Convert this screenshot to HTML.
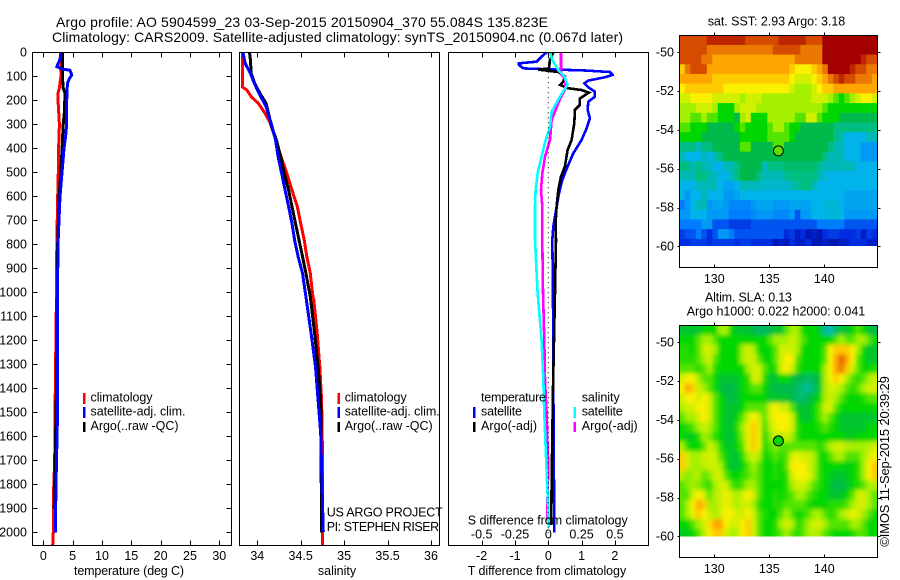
<!DOCTYPE html>
<html lang="en">
<head>
<meta charset="utf-8">
<title>Argo profile 5904599_23</title>
<style>
html,body{margin:0;padding:0;background:#fff;}
svg{display:block;}
text{font-family:"Liberation Sans",sans-serif;font-size:12.5px;fill:#000;}
.ttl{font-size:14px;}
</style>
</head>
<body>
<svg id="fig" xmlns="http://www.w3.org/2000/svg" width="900" height="580" viewBox="0 0 900 580">
  <defs>
    <clipPath id="map1clip"><rect x="680" y="36" width="197" height="210"/></clipPath>
    <clipPath id="map2clip"><rect x="680" y="326" width="197" height="210.5"/></clipPath>
    <filter id="soft" x="-5%" y="-5%" width="110%" height="110%"><feGaussianBlur stdDeviation="2"/></filter>
  </defs>
  <g id="map1cells" clip-path="url(#map1clip)"></g>
  <g clip-path="url(#map2clip)"><g id="map2cells" filter="url(#soft)"></g></g>
  <g id="marks"></g>
  <g id="axes" fill="none" stroke="#000" stroke-width="1" shape-rendering="crispEdges">
    <rect x="32.5" y="52.5" width="199" height="493"/>
    <rect x="239.5" y="52.5" width="200" height="493"/>
    <rect x="448.5" y="52.5" width="200" height="493"/>
    <rect x="679.5" y="35.5" width="198" height="232"/>
    <rect x="679.5" y="325.5" width="198" height="232"/>
  </g>
  <g id="ticks"></g>
  <g id="labels"></g>

  <text class="ttl" x="56" y="27" textLength="492" lengthAdjust="spacing">Argo profile: AO 5904599_23 03-Sep-2015 20150904_370 55.084S 135.823E</text>
  <text class="ttl" x="52" y="42" textLength="571" lengthAdjust="spacing">Climatology: CARS2009. Satellite-adjusted climatology: synTS_20150904.nc (0.067d later)</text>

  <text x="129" y="575" text-anchor="middle" textLength="110" lengthAdjust="spacing">temperature (deg C)</text>
  <text x="337" y="575" text-anchor="middle">salinity</text>
  <text x="467.7" y="575" textLength="158.5" lengthAdjust="spacing">T difference from climatology</text>
  <text x="467.7" y="524.3" textLength="160" lengthAdjust="spacing">S difference from climatology</text>

  <g>
    <rect x="83" y="393" width="2.5" height="11" fill="#f00"/>
    <rect x="83" y="407" width="2.5" height="11" fill="#00f"/>
    <rect x="83" y="422" width="2.5" height="10" fill="#000"/>
    <text x="90.5" y="401.7" textLength="62" lengthAdjust="spacing">climatology</text>
    <text x="90.5" y="415.7" textLength="95" lengthAdjust="spacing">satellite-adj. clim.</text>
    <text x="90.5" y="430" textLength="88" lengthAdjust="spacing">Argo(..raw -QC)</text>
  </g>
  <g>
    <rect x="337.5" y="393" width="2.5" height="11" fill="#f00"/>
    <rect x="337.5" y="407" width="2.5" height="11" fill="#00f"/>
    <rect x="337.5" y="422" width="2.5" height="10" fill="#000"/>
    <text x="344.7" y="401.7" textLength="62" lengthAdjust="spacing">climatology</text>
    <text x="344.7" y="415.7" textLength="95" lengthAdjust="spacing">satellite-adj. clim.</text>
    <text x="344.7" y="430" textLength="88" lengthAdjust="spacing">Argo(..raw -QC)</text>
  </g>
  <text x="326.7" y="516.7" textLength="116" lengthAdjust="spacing">US ARGO PROJECT</text>
  <text x="326.7" y="531" textLength="112.5" lengthAdjust="spacing">PI: STEPHEN RISER</text>

  <g>
    <rect x="473" y="407" width="2.5" height="11" fill="#00f"/>
    <rect x="473" y="422" width="2.5" height="10" fill="#000"/>
    <rect x="573.5" y="407" width="2.5" height="11" fill="#0ff"/>
    <rect x="573.5" y="422" width="2.5" height="10" fill="#f0f"/>
    <text x="481" y="401.7" textLength="65" lengthAdjust="spacing">temperature</text>
    <text x="481" y="415.7" textLength="41" lengthAdjust="spacing">satellite</text>
    <text x="481" y="430" textLength="56" lengthAdjust="spacing">Argo(-adj)</text>
    <text x="581.7" y="401.7" textLength="38" lengthAdjust="spacing">salinity</text>
    <text x="581.7" y="415.7" textLength="41" lengthAdjust="spacing">satellite</text>
    <text x="581.7" y="430" textLength="56" lengthAdjust="spacing">Argo(-adj)</text>
  </g>

  <text x="707.7" y="25.7" textLength="137.5" lengthAdjust="spacing">sat. SST: 2.93 Argo: 3.18</text>
  <text x="705" y="301.7" textLength="87" lengthAdjust="spacing">Altim. SLA: 0.13</text>
  <text x="686.7" y="315.7" textLength="178.5" lengthAdjust="spacing">Argo h1000: 0.022 h2000: 0.041</text>
  <text transform="translate(889,546.7) rotate(-90)" textLength="170.5" lengthAdjust="spacing" style="font-size:13px">©IMOS 11-Sep-2015 20:39:29</text>
</svg>
<script>
// ---------- profile data (depth in dbar) ----------
const depthTicks = [0,100,200,300,400,500,600,700,800,900,1000,1100,1200,1300,1400,1500,1600,1700,1800,1900,2000];
const tempTicks = [0,5,10,15,20,25,30];
const salTicks = [34,34.5,35,35.5,36];
const salTickLabels = ['34','34.5','35','35.5','36'];
const tDiffTicks = [-2,-1,0,1,2];
const sDiffTicks = [-0.5,-0.25,0,0.25,0.5];
const sDiffTickLabels = ['-0.5','-0.25','0','0.25','0.5'];

const tempClimDepth = [0,70,100,150,170,200,300,400,500,600,800,1000,1200,1400,1700,1850,2000,2055];
const tempClimValue = [3.3,2.96,3.0,2.73,2.5,2.5,2.75,2.6,2.55,2.45,2.3,2.25,2.15,2.05,1.94,1.72,1.7,1.6];
const tempArgoDepth = [0,50,100,150,170,250,300,400,500,600,800,1000,1200,1400,1600,1800,1900];
const tempArgoValue = [3.3,3.25,3.25,3.4,3.7,3.6,3.4,3.2,3.0,2.7,2.45,2.38,2.32,2.25,2.1,1.94,1.85];
const tempSatDepth = [0,30,60,70,75,95,110,130,200,300,350,400,500,600,800,1000,1200,1400,1550,1800,2000];
const tempSatValue = [3.0,2.85,2.3,3.3,4.55,4.84,4.43,4.1,3.98,3.98,3.8,3.53,3.19,2.85,2.5,2.42,2.4,2.39,2.39,2.17,2.05];

const salClimDepth = [0,130,145,157,185,212,254,296,351,421,504,574,643,713,782,851,921,1018,1032,1171,1310,1449,1657,1866,2055];
const salClimValue = [33.83,33.83,33.83,33.88,33.93,34.01,34.09,34.15,34.2,34.26,34.34,34.40,34.46,34.50,34.54,34.57,34.61,34.64,34.65,34.69,34.72,34.74,34.75,34.75,34.75];
const salArgoDepth = [0,32,88,129,171,212,254,310,365,435,504,574,643,713,782,851,921,1018,1171,1310,1449,1588,1727,1936,2000];
const salArgoValue = [33.91,33.92,33.93,33.97,34.03,34.1,34.13,34.165,34.22,34.27,34.31,34.36,34.40,34.44,34.48,34.52,34.56,34.61,34.66,34.70,34.73,34.735,34.735,34.74,34.74];
const salSatDepth = [0,46,88,129,171,226,296,365,435,504,574,643,713,782,851,921,1018,1171,1310,1449,1588,1727,1866,1998];
const salSatValue = [33.835,33.86,33.92,33.965,34.02,34.1,34.16,34.21,34.24,34.28,34.32,34.36,34.4,34.43,34.47,34.52,34.56,34.62,34.67,34.70,34.73,34.74,34.75,34.76];

const dTSatDepth = [0,18,39,46,53,67,71,76,82,94,104,118,129,146,164,185,206,240,275,317,365,421,476,532,588,643,726,782,1000,1365,2000];
const dTSatValue = [-0.05,-0.2,-0.35,-0.88,-0.88,-0.75,0,1.1,1.85,1.93,1.7,1.2,1.08,1.2,1.4,1.4,1.2,1.18,1.25,1.15,1.0,0.75,0.58,0.42,0.32,0.25,0.15,0.12,0.14,0.15,0.18];
const dTArgoDepth = [0,32,67,72,82,100,122,136,150,157,168,192,219,240,296,365,407,476,518,574,643,713,782,1000,1200,1400,1600,1800,1970];
const dTArgoValue = [0.15,0.05,0.02,-0.3,0.3,0.5,0.45,0.35,0.6,1.0,1.22,0.95,0.95,0.8,0.78,0.7,0.58,0.5,0.38,0.3,0.25,0.22,0.23,0.2,0.17,0.14,0.12,0.1,0.09];
const dSSatDepth = [0,32,74,100,136,164,192,247,310,365,435,504,574,643,782,1000,1200,1365,1504,1643,1782,1977];
const dSSatValue = [0.0125,0.03,0.075,0.12,0.145,0.11,0.08,0.025,0.0125,-0.02,-0.05,-0.08,-0.095,-0.1,-0.1,-0.08,-0.05,-0.0375,-0.03,-0.02,-0.01,0.005];
const dSArgoDepth = [0,74,94,108,129,157,192,233,282,365,435,504,574,643,782,1000,1200,1365,1504,1643,1725,1950];
const dSArgoValue = [0.095,0.095,0.1,0.125,0.13,0.125,0.09,0.06,0.025,0.0125,-0.025,-0.045,-0.055,-0.045,-0.045,-0.04,-0.03,-0.025,-0.0125,-0.005,0,-0.01];

// ---------- map data: colour level per 0.5-degree cell, north to south ----------
const mapLonTicks = [130,135,140];
const mapLatTicks = [-50,-52,-54,-56,-58,-60];
const floatLon = 135.823;
const floatLat = -55.084;
const sstRows = [
[9,9,9,9,9,9.5,9.5,9.5,9.5,9.5,9.5,9.5,9,9,9,9,9,9,9.5,9.5,9.5,9.5,9.5,9,9,9,10,10,10,10,10,10,10,10,10,10],
[9,9,9,9,9,8.5,8.5,8.5,8.5,8.5,8.5,8.5,8.5,8.5,8.5,8.5,8.5,9,9,9,9,9,8.5,8.5,8.5,8.5,10,10,10,10,10,10,10,10,10,10],
[9,9,9,9,8.5,8.5,8,8,8,8,8,8,8,8,8,8,8,8,8,8,8,8.5,8.5,8.5,8.5,8.5,10,10,10,10,10,10,10,9.5,9,9],
[7.5,8.5,9,9,9,8,8,8,8,8,8,8,8,8,8,8,8,8,8,8,7.5,7,7,7,7.5,8,8.5,10,10,10,10,9.5,9,9,8.5,8.5],
[8,8,8,8,8,8,7.5,7.5,7.5,7.5,7.5,7.5,7.5,7.5,7.5,7.5,7.5,7.5,7.5,7.5,7,6.5,6.5,6.5,7,7.5,8,8.5,9,9.5,9,9,8.5,8.5,8.5,8],
[7,7.5,7.5,7.5,7.5,7.5,7.5,7.5,7,7,7,7,7,7,7,7,7,7,7,7,6.5,6,6,6,6.5,7,7.5,7.5,8,8,8,8,8,8,8,8],
[6.5,6.5,7,7,7,7,6.5,6.5,6.5,6.5,6.5,6,6.5,6.5,6.5,6,6,6,6,6,6,6,6,6,6.5,6.5,6.5,6,5.5,5,5.5,6,6.5,7,7,6.5],
[6,6,6,6.5,6.5,6.5,6,5,5,5,6,6.5,6.5,6.5,6,6,6,6,6,6,6,6,6,6,6,6,5.5,5,5,5,5,5,5,5,5,5],
[6,6,5.5,5.5,6,5.5,5.5,5,5,5,4.5,6,6.5,5,5,5,6,6,6,6,6,5.5,5.5,6.5,6.5,5.5,5,5,5,4.5,4.5,4.5,4.5,4.5,4.5,4.5],
[5.5,5.5,5,5,5,4.5,4.5,4.5,4.5,4.5,5,5.5,5,5,5,5,5.5,6,6,5.5,5,5,4.5,4.5,4.5,4.5,4.5,4.5,4,4,4,4,4,4,4,4],
[5,5,5,5,4.5,4.5,4.5,4.5,4.5,4.5,4.5,5,5,5,5,5,5.5,5.5,5.5,5.5,5,4.5,4.5,4.5,4.5,4.5,4.5,4.5,4,3.5,3,3,3,3,3.5,3.5],
[4,4,4,3.5,4,4,4.5,4.5,4.5,4.5,4.5,5.5,5.5,4.5,4.5,4.5,4.5,5.5,5.5,4.5,4.5,4.5,4.5,4.5,4.5,4.5,4.5,4,3.5,3.5,3,3,3,2.5,2.5,2.5],
[3.5,3,3,3,3.5,3,3.5,4,4.5,4.5,4.5,4.5,4.5,4.5,4.5,4.5,4.5,4.5,4.5,4.5,4.5,4.5,4.5,4.5,4.5,4.5,4,3.5,3.5,3.5,3,3,3,2.5,2.5,2.5],
[4,4,3.5,4,3.5,3.5,3,3,3.5,3.5,4,4.5,4.5,4.5,4.5,3.5,4,4,4,4.2,4.2,4.2,4.2,4.2,4.2,3.8,3.5,3.5,3.5,3.5,3.5,3.5,3,3,3,3],
[3.5,3.5,3.5,4,4,3.5,3.5,3,3,3.5,4,4.5,4.5,4.5,4,3.5,3.5,3.5,3.5,3.8,4,4,4,4,4,3.5,3.3,3,3,3,3,3,3,3,3,3],
[3,3,3,3.5,3.5,3.5,3.5,3,2.7,2.7,3,3.5,3.5,3.5,3.5,3.3,3.3,3.3,3.3,3.3,3.5,3.8,4,4,3.5,3,3,3,3,3,3,3,3,3,3,3],
[3,2.5,3,3,3.5,3,3,3,2.5,2.5,2.7,3,3,3,3,3,3,3,3,3,3,3,3,3,3,3,3,3,3,3,2.7,2.7,2.7,2.7,2.7,2.7],
[2,2.5,3,3.5,3.5,2.5,2.7,2.7,2.5,2.2,2.2,2.2,2.2,2.5,2.7,2.7,2.7,2.5,2.5,2.5,2.7,2.7,2.7,2.7,3,3,3.2,3.2,3.2,3,2.7,2.7,2.7,2.7,2.7,2.7],
[2.5,2.5,3,3,3,2.5,2.5,2.5,2.5,2,2,2,2,2.2,2.5,2.5,2.5,2.2,2.2,2.2,2.5,1.5,2.5,2.5,3,3,3,3.2,3.2,3,2.5,2.5,2.5,2.5,2.5,2.5],
[2,2,2,2,2.5,2.5,1.5,1.5,1.5,1.2,1.2,1.2,1.2,1.5,1.5,1.5,1.5,1.5,1.5,1.5,1.5,1.5,1.5,1.5,1.5,2,2,2,2,2,1.5,1.5,1.5,1.5,1.5,1.5],
[1.2,1.5,1.5,2,1.5,1,1.5,2.5,2.5,2,1.5,1.5,1.5,1.5,1.5,1.5,1.5,1.5,1.5,1,1.2,0.7,1,0.5,0.7,0.5,1,1.2,1.2,1,1,1,1.2,0.7,1.2,1],
[1,1,1.2,1.2,1.2,1,1.2,1.2,1.2,1.2,1,1.2,1.2,1,1,1,1,0.5,0.7,0.5,1,0.7,0.7,1,0.5,0.5,0.7,0.5,0.5,0.7,0.7,1,1,1,0.7,0.7]
];
const slaRows = [
[4.7,4.7,4.7,4.7,5,5,5,6,6,5,4.7,4.7,4.7,4.5,4.3,4.3,4.5,4.7,4.7,5.5,6,6,5,5,5,4.7,3.8,3.5,4.3,4.7,4.7,5,5.5,5,4.7,4.5],
[5,5,5,5.5,6,6,5.5,5,5,5,5,5,5,5,5,5,5.5,6,6,6,6.5,6,5.5,5,5,5,5,5,5.5,6,5.5,5.5,6,6,5.5,5],
[5.2,5.2,5,5.5,6.5,6.5,6,5,5,5,5,6,6.5,6,5,5,5,5.5,6.5,6.5,6.5,6,5,5,5,5,5.5,7,7.5,7.5,7.5,7,6,5,4.7,4.7],
[5.2,5.2,5.2,5.5,6,6.5,5.5,5,5,5,5,6,6.5,6.5,5.5,5,5,5.5,6.5,7,7,5.5,5,5,5,5,5.5,7,8,8.7,8,7,5.5,5,4.7,4.7],
[5.5,5.5,5.5,5.2,5.5,6,5.2,5,5,5,5,5,6,6.5,6.5,5.5,5,5.2,6.5,7,6.5,5.3,5,5,5,5,6,7,8,8.5,7.5,6.5,5.5,5,5,5.2],
[6.5,7,7,6,5.5,5.5,5,4.7,4.7,4.7,4.7,5,5.2,6.5,6.5,5.2,4.7,4.7,5,5,4.7,4.5,4.5,4.2,4.5,4.7,6,7,7.5,7,6,5.5,5.2,5.5,6,6.5],
[7,8,7.5,6.5,6,5.5,5,4.7,4.5,4.5,4.7,5,5.2,5.5,5.5,5,4.7,4.5,4.5,4.5,4.5,4.2,4,3.8,4.2,4.7,6,6.5,6.5,6,5.5,5.2,5.5,6,6.5,6.5],
[6.5,7,7,6.5,7,6.5,5.5,5,4.7,4.5,4.7,5,5,5,5,5,4.7,4.7,4.7,4.7,4.5,4.2,4.2,4.5,4.7,5,6,6.5,6,5.5,5,5,5,5.2,5.5,5.5],
[6,6.5,6.5,7,7,6.5,5.5,5,4.7,4.7,4.7,5,5.5,5.5,5.5,5.5,6.5,7,6.5,6.5,5.5,4.7,4.7,4.7,5,5.5,6.5,6.5,5.5,5,5,5,5,5,5,5],
[5.5,6,6,6.5,7,6.5,5.5,5,4.7,4.7,5,5.5,6.5,7,6.5,5.5,6.5,7,7,7,6.5,5,4.7,4.7,5,5.5,6,5.5,5,4.7,4.7,4.7,4.7,4.7,4.7,4.7],
[5,5.2,5.5,6,6.5,6,5.5,5,4.7,4.7,5.2,6,6.8,7.5,6.8,5.2,6.2,6.8,7,7,6.5,5.2,5,5,5,5.2,5.5,5.2,5,4.7,4.7,4.7,4.7,4.7,5,5],
[5,4.8,4.8,5.2,6,5.8,5.2,5,4.7,4.7,5,5.8,6.8,7.5,6.8,5,5.8,6.5,6,6.5,6,5.2,5,5,5,5,5,5,5,5,4.8,4.8,5,5,5,5],
[6,5.2,5,5,5.5,6.5,6,5.2,4.8,4.7,5,5.5,6.8,7.5,6.8,5,5.5,5.8,5.5,5.5,5.5,5.5,5.5,5.5,5.5,5.2,5.5,6.2,6.5,6.5,6.2,6,6,6,6.2,6.5],
[7.5,6.5,6,6,6.5,6.5,6.5,5.5,5,4.7,4.7,5.2,6,6.5,6,5,5.2,5.5,5.2,5.5,6.5,6.8,6.5,6.5,6,5.2,5,5.5,6,6,5.5,5.5,5.5,6,6.5,7],
[7.5,6.5,6,6,6.2,6.5,6.5,6,5,4.7,4.7,5,5.5,6,5.5,5,5,5.2,5,5.5,7,7,7,6.5,6,5.2,5,5,5,5,4.8,5,5.2,6,7,7.5],
[6.2,5.8,6,6.2,5.5,5.8,6.5,6.5,5.5,5,5,5.2,5.5,5.8,5.5,5,5,5.2,5,5.2,6.5,7,7,6.8,6,5.2,5,4.8,4.7,4.7,4.8,5,5.2,6,7,7.5],
[5.5,5.8,6,5.8,5.5,5.2,6,6.5,6.5,5.5,5.2,5.5,6,6,5.5,5,5,5,5,5.2,6,6.5,6.5,6,5.5,5.2,5,4.7,4.5,4.5,4.7,5,5.2,5.5,6,6.2],
[5.5,5.5,6.5,7,6.5,5.5,6.2,6.5,6.8,6.5,6,6.5,7,6.5,5.5,5,5,5.2,5,5.2,5.5,6,6,5.5,5.2,5,5,4.7,4.7,4.7,5,5.5,6.5,6.5,6,5.5],
[5.5,6,7,8,7.5,6,6,6.5,6.8,6.5,6,6.5,6.5,6,5.2,5,5,5.2,5.2,5.5,5.5,5.5,5.5,5.2,5,5,5,5.2,5.2,5.2,5.5,6,6.5,6.5,6,5.5],
[5.5,6,6.8,7.5,7,6.5,6,6.5,7,7,6.5,6.5,7,6.5,5.5,5.2,5,5,5.5,6,5.5,5,5.2,5.5,6,6,5.5,5.2,5.5,6,6.5,6.8,6.5,6,5.5,5],
[5,5,5.5,6,6.5,7.2,8,8,7,6.5,6.5,7,7.5,6.5,5.5,5,5,5.2,6,6.5,6.2,5.2,5.5,6,6.5,6.5,6,5.5,5.5,5.5,5.5,6,6,5.5,5,5],
[4.8,4.8,5,5.5,6.2,7,7.5,7.5,6.5,6,6.2,7,7.5,6.5,5.5,5,5,5.2,5.5,6,5.5,5.2,5.5,6,6.2,6,5.5,5.2,5,5,5,5.2,5.5,5.5,5,5]
];

// ---------- scales ----------
const NS = 'http://www.w3.org/2000/svg';
const tempX = t => 43.3 + 5.867 * t;
const salX = s => 257.3 + 86.85 * (s - 34);
const tDiffX = t => 548.3 + 33.3 * t;
const sDiffX = s => 548.3 + 133.2 * s;
const depthY = d => 52.3 + 0.24 * d;
const lonX = lon => 714.3 + 11 * (lon - 130);
const sstY = lat => 52.3 + 19.4 * (-50 - lat);
const slaY = lat => 342.3 + 19.4 * (-50 - lat);
const levelStops = [[0,0,0,130],[1,0,45,225],[2,0,125,255],[3,0,180,235],[4,0,190,130],[4.5,0,185,75],[5,0,215,0],[6,165,240,0],[7,250,240,0],[8,255,165,0],[9,215,75,0],[10,165,0,0]];

function levelColor(v) {
  let i = 0;
  while (i < levelStops.length - 2 && v > levelStops[i + 1][0]) i++;
  const a = levelStops[i], b = levelStops[i + 1];
  const f = Math.max(0, Math.min(1, (v - a[0]) / (b[0] - a[0])));
  const c = [1, 2, 3].map(k => Math.round(a[k] + (b[k] - a[k]) * f));
  return 'rgb(' + c.join(',') + ')';
}
function make(tag, parent) {
  const el = document.createElementNS(NS, tag);
  document.getElementById(parent).appendChild(el);
  return el;
}

// ---------- profile lines ----------
function profile(depths, values, xf, color, name, width) {
  const el = make('polyline', 'marks');
  
  
  el.setAttribute('points', depths.map((d, i) => xf(values[i]).toFixed(1) + ',' + depthY(d).toFixed(1)).join(' '));
  el.setAttribute('fill', 'none');
  el.setAttribute('stroke', color);
  el.setAttribute('stroke-width', width);
  el.setAttribute('shape-rendering', 'crispEdges');
}
profile(tempClimDepth, tempClimValue, tempX, '#f00', 'temperature-climatology-line', 3);
profile(tempArgoDepth, tempArgoValue, tempX, '#000', 'temperature-argo-line', 3);
profile(tempSatDepth, tempSatValue, tempX, '#00f', 'temperature-satellite-line', 3);
profile(salClimDepth, salClimValue, salX, '#f00', 'salinity-climatology-line', 3);
profile(salArgoDepth, salArgoValue, salX, '#000', 'salinity-argo-line', 3);
profile(salSatDepth, salSatValue, salX, '#00f', 'salinity-satellite-line', 3);
profile(dTSatDepth, dTSatValue, tDiffX, '#00f', 't-difference-satellite-line', 2.6);
profile(dTArgoDepth, dTArgoValue, tDiffX, '#000', 't-difference-argo-line', 2.6);
profile(dSArgoDepth, dSArgoValue, sDiffX, '#f0f', 's-difference-argo-line', 2.6);
profile(dSSatDepth, dSSatValue, sDiffX, '#0ff', 's-difference-satellite-line', 2.6);

// zero reference line
const zeroLine = make('line', 'marks');


zeroLine.setAttribute('x1', tDiffX(0).toFixed(1));
zeroLine.setAttribute('x2', tDiffX(0).toFixed(1));
zeroLine.setAttribute('y1', depthY(0).toFixed(1));
zeroLine.setAttribute('y2', '545');
zeroLine.setAttribute('stroke', '#000');
zeroLine.setAttribute('stroke-dasharray', '1 4');

// ---------- ticks and labels ----------
function tick(x1, y1, x2, y2) {
  const el = make('line', 'ticks');
  
  
  el.setAttribute('x1', Math.round(x1) + 0.5);
  el.setAttribute('y1', Math.round(y1) + 0.5);
  el.setAttribute('x2', Math.round(x2) + 0.5);
  el.setAttribute('y2', Math.round(y2) + 0.5);
  el.setAttribute('stroke', '#000');
  el.setAttribute('shape-rendering', 'crispEdges');
}
function label(str, x, y, anchor) {
  const el = make('text', 'labels');
  
  
  el.setAttribute('x', x.toFixed(1));
  el.setAttribute('y', y.toFixed(1));
  el.setAttribute('text-anchor', anchor);
  el.setAttribute('font-size', '12.5');
  el.textContent = str;
}
depthTicks.forEach(d => {
  const y = depthY(d);
  tick(32, y, 37, y);
  tick(226, y, 231, y);
  label(String(d), 27, y + 4, 'end');
});
tempTicks.forEach(t => {
  const x = tempX(t);
  tick(x, 52, x, 57);
  tick(x, 540, x, 545);
  label(String(t), x, 560, 'middle');
});
salTicks.forEach((s, i) => {
  const x = salX(s);
  tick(x, 52, x, 57);
  tick(x, 540, x, 545);
  label(salTickLabels[i], x, 560, 'middle');
});
tDiffTicks.forEach(t => {
  const x = tDiffX(t);
  tick(x, 52, x, 57);
  tick(x, 540, x, 545);
  label(String(t), x, 560, 'middle');
});
sDiffTicks.forEach((s, i) => {
  label(sDiffTickLabels[i], sDiffX(s), 538.5, 'middle');
});
[[35, 267, sstY, 283], [325, 557, slaY, 573]].forEach(m => {
  mapLonTicks.forEach(lon => {
    const x = lonX(lon);
    tick(x, m[0] - 3, x, m[0]);
    tick(x, m[1] - 3, x, m[1]);
    label(String(lon), x, m[3], 'middle');
  });
  mapLatTicks.forEach(lat => {
    const y = m[2](lat);
    tick(677, y, 679, y);
    tick(877, y, 880, y);
    label(String(lat), 674, y + 4, 'end');
  });
});

// ---------- heat maps ----------
function heatmap(rows, yf, parent, name, bleed) {
  rows.forEach((row, r) => {
    const latTop = -49.12 - 0.5 * r;
    const latBot = Math.max(latTop - 0.5, -60);
    row.forEach((v, c) => {
      const lon = 126.82 + 0.5 * c;
      const x0 = lonX(lon) - (c === 0 ? bleed : 0);
      const x1 = lonX(lon + 0.5) + (c === row.length - 1 ? bleed : 0);
      const y0 = yf(latTop) - (r === 0 ? bleed : 0);
      const y1 = yf(latBot) + (r === rows.length - 1 ? bleed : 0);
      const el = make('rect', parent);
      
      
      el.setAttribute('x', x0.toFixed(1));
      el.setAttribute('y', y0.toFixed(1));
      el.setAttribute('width', (x1 - x0 + 0.6).toFixed(1));
      el.setAttribute('height', (y1 - y0 + 0.6).toFixed(1));
      el.setAttribute('fill', levelColor(v));
    });
  });
}
heatmap(sstRows, sstY, 'map1cells', 'sst-cell', 0);
heatmap(slaRows, slaY, 'map2cells', 'sla-cell', 10);

// float position markers
const marker1 = make('circle', 'marks');


marker1.setAttribute('cx', lonX(floatLon).toFixed(1));
marker1.setAttribute('cy', sstY(floatLat).toFixed(1));
marker1.setAttribute('r', '5');
marker1.setAttribute('fill', 'rgb(90,225,0)');
marker1.setAttribute('stroke', '#000');
const marker2 = make('circle', 'marks');


marker2.setAttribute('cx', lonX(floatLon).toFixed(1));
marker2.setAttribute('cy', slaY(floatLat).toFixed(1));
marker2.setAttribute('r', '5');
marker2.setAttribute('fill', 'rgb(0,215,0)');
marker2.setAttribute('stroke', '#000');
</script>
</body>
</html>
